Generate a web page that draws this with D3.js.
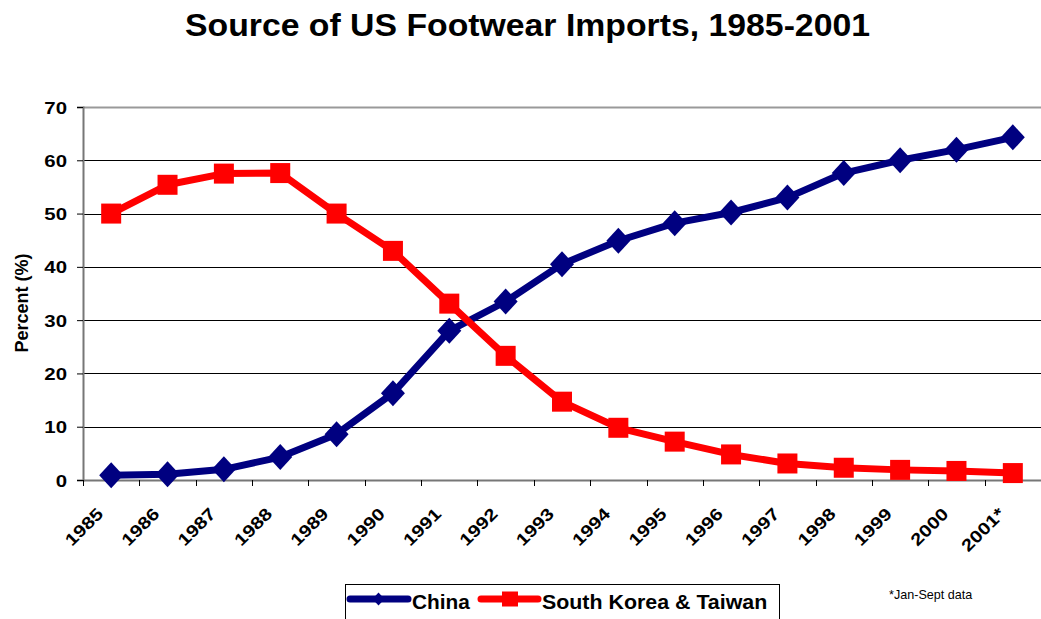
<!DOCTYPE html>
<html><head><meta charset="utf-8">
<script src="https://cdn.jsdelivr.net/npm/d3@7"></script>
<style>
html,body{margin:0;padding:0;background:#fff;}
svg{display:block;font-family:"Liberation Sans",Arial,sans-serif;}
</style></head>
<body><svg id="c" width="1041" height="619"></svg>
<script>
const years = ["1985","1986","1987","1988","1989","1990","1991","1992","1993","1994","1995","1996","1997","1998","1999","2000","2001*"];
const china = [0.9,1.1,2.0,4.3,8.6,16.3,28.0,33.5,40.5,44.9,48.2,50.2,53.0,57.6,60.0,62.0,64.3];
const skTaiwan = [50.0,55.4,57.5,57.6,50.0,43.0,33.1,23.3,14.7,9.8,7.2,4.8,3.1,2.3,1.9,1.7,1.3];
const yTicks = [0,10,20,30,40,50,60,70];
const seriesNames = ["China","South Korea & Taiwan"];
const colors = ["#000080","#FF0000"];

const svg = d3.select("#c");
const L = 83, R = 1041, T = 107, B = 480;
const x = d3.scaleBand().domain(years).range([L, R]);
const y = d3.scaleLinear().domain([0,70]).range([B, T]);

function stxt(parent, tx, ty, sx, size, weight, txt, anchor, extra) {
  return parent.append("text")
    .attr("transform", `translate(${tx},${ty})${extra||""} scale(${sx},1)`)
    .attr("text-anchor", anchor || "start")
    .style("font-size", size + "px").style("font-weight", weight).attr("fill", "#000").text(txt);
}

// title
stxt(svg, 527.5, 35.7, 1.09, 31, "bold", "Source of US Footwear Imports, 1985-2001", "middle");

// gridlines
svg.append("g").selectAll("line").data(yTicks.filter(d=>d>0)).join("line")
  .attr("x1", L).attr("x2", R).attr("y1", d=>Math.round(y(d))+0.5).attr("y2", d=>Math.round(y(d))+0.5)
  .attr("stroke", d=> d===70 ? "#999" : "#000").attr("stroke-width", d=> d===70 ? 2 : 1);

// y axis
const ya = svg.append("g").attr("transform", `translate(${L},0)`)
  .call(d3.axisLeft(y).tickValues(yTicks).tickSize(6));
ya.select(".domain").attr("stroke","#777").attr("stroke-width",2);
ya.selectAll(".tick line").attr("stroke","#000");
ya.selectAll(".tick text")
  .attr("x", null).attr("dy", null)
  .attr("transform", "translate(-16,6) scale(1.2,1)")
  .attr("text-anchor","end")
  .style("font-size","17px").style("font-weight","bold").style("font-family","Liberation Sans, Arial, sans-serif").attr("fill","#000");

// x axis
const xa = svg.append("g").attr("transform", `translate(0,${B})`)
  .call(d3.axisBottom(x).tickSize(0).tickFormat(d=>d));
xa.select(".domain").attr("stroke","#777").attr("stroke-width",2);
svg.append("g").selectAll("line").data(years).join("line")
  .attr("x1", d=>Math.round(x(d))+0.5).attr("x2", d=>Math.round(x(d))+0.5)
  .attr("y1", B).attr("y2", B+6).attr("stroke","#000");
xa.selectAll(".tick text")
  .style("font-size","17px").style("font-weight","bold").style("font-family","Liberation Sans, Arial, sans-serif").attr("fill","#000")
  .attr("text-anchor","end").attr("dy", null).attr("y", null)
  .attr("transform", "translate(-7,35) rotate(-45) scale(1.2,1)");

// y label
stxt(svg, 28, 303, 1, 18, "bold", "Percent (%)", "middle", " rotate(-90)");

// lines
const cx = d => x(d) + x.bandwidth()/2;
const line = d3.line().x((d,i)=>cx(years[i])).y(d=>y(d));
[china, skTaiwan].forEach((s,k)=>{
  svg.append("path").datum(s).attr("d", line).attr("fill","none")
    .attr("stroke", colors[k]).attr("stroke-width", 7).attr("stroke-linejoin","round");
});
svg.append("g").selectAll("path").data(china).join("path")
  .attr("transform",(d,i)=>`translate(${cx(years[i])},${y(d)})`)
  .attr("d","M0,-13L12,0L0,13L-12,0Z").attr("fill",colors[0]);
svg.append("g").selectAll("rect").data(skTaiwan).join("rect")
  .attr("x",(d,i)=>cx(years[i])-10).attr("y",d=>y(d)-10).attr("width",20).attr("height",20).attr("fill",colors[1]);

// legend
const lg = svg.append("g");
lg.append("rect").attr("x",345.5).attr("y",584.5).attr("width",434).attr("height",50).attr("fill","#fff").attr("stroke","#000");
lg.append("line").attr("x1",350).attr("x2",408).attr("y1",599).attr("y2",599).attr("stroke",colors[0]).attr("stroke-width",7).attr("stroke-linecap","round");
lg.append("path").attr("d","M378.5,592.5L384.5,599L378.5,605.5L372.5,599Z").attr("fill",colors[0]);
stxt(lg, 412, 609, 1.07, 19.5, "bold", seriesNames[0]);
lg.append("line").attr("x1",481).attr("x2",538).attr("y1",599).attr("y2",599).attr("stroke",colors[1]).attr("stroke-width",7).attr("stroke-linecap","round");
lg.append("rect").attr("x",502).attr("y",591.5).attr("width",16).attr("height",15).attr("fill",colors[1]);
stxt(lg, 542, 609, 1.097, 19.5, "bold", seriesNames[1]);

// footnote
stxt(svg, 889, 599, 1.05, 12, "normal", "*Jan-Sept data");
</script></body></html>
